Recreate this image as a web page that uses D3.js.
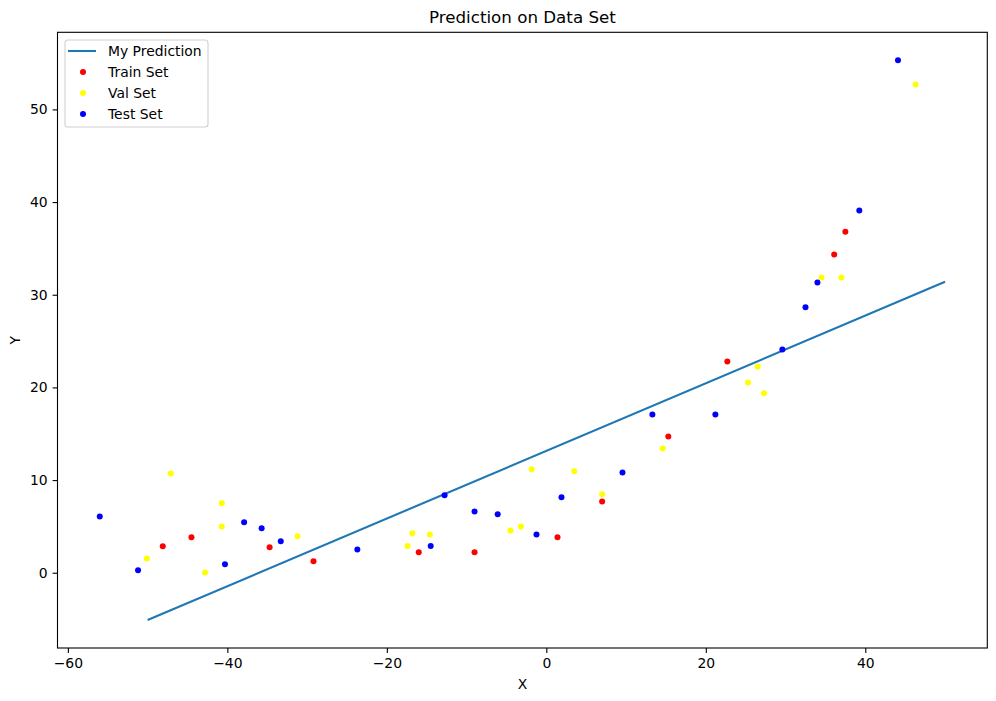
<!DOCTYPE html>
<html>
<head>
<meta charset="utf-8">
<script src="https://cdn.jsdelivr.net/npm/d3@7"></script>
<style>
  body { margin: 0; background: #fff; }
  text { font-family: "DejaVu Sans", sans-serif; }
</style>
</head>
<body>
<div id="chart"></div>
<script>
// Data
var trainX = [-48.1, -44.5, -34.7, -29.2, -16.0, -9.0, 1.4, 7.0, 15.3, 22.7, 36.1, 37.5];
var trainY = [2.85, 3.82, 2.74, 1.23, 2.2, 2.2, 3.82, 7.7, 14.7, 22.8, 34.35, 36.8];

var valX = [-50.1, -47.1, -42.8, -40.7, -40.7, -31.2, -17.4, -16.8, -14.6, -4.5, -3.2, -1.85, 3.5, 7.0, 14.6, 25.3, 26.5, 27.3, 34.5, 37.0, 46.3];
var valY = [1.55, 10.7, 0.04, 7.49, 5.0, 3.93, 2.88, 4.25, 4.14, 4.57, 5.0, 11.16, 10.94, 8.46, 13.42, 20.54, 22.27, 19.36, 31.87, 31.87, 52.7];

var testX = [-56.0, -51.2, -40.3, -37.9, -35.7, -33.3, -23.7, -14.5, -12.76, -9.0, -6.1, -1.23, 1.9, 9.55, 13.3, 21.2, 29.6, 32.5, 34.0, 39.25, 44.1];
var testY = [6.08, 0.26, 0.91, 5.44, 4.79, 3.39, 2.52, 2.88, 8.35, 6.62, 6.30, 4.14, 8.14, 10.83, 17.09, 17.09, 24.1, 28.64, 31.33, 39.1, 55.3];

var predX = [-50, 50];
var predY = [-5.1, 31.4];

var xTicks = [-60, -40, -20, 0, 20, 40];
var yTicks = [0, 10, 20, 30, 40, 50];

var svgWidth = 996;
var svgHeight = 701;
var margin = { top: 32.3, right: 8.7, bottom: 53, left: 57.5 };
var width = svgWidth - margin.left - margin.right;
var height = svgHeight - margin.top - margin.bottom;

var svg = d3.select("#chart")
  .append("svg")
  .attr("width", svgWidth)
  .attr("height", svgHeight);

var chartGroup = svg.append("g")
  .attr("transform", `translate(${margin.left}, ${margin.top})`);

var xScale = d3.scaleLinear().domain([-61.3, 55.3]).range([0, width]);
var yScale = d3.scaleLinear().domain([-8.12, 58.32]).range([height, 0]);

// Axes
var bottomAxis = d3.axisBottom(xScale).tickValues(xTicks).tickSize(4.9).tickPadding(4.9).tickSizeOuter(0);
var leftAxis = d3.axisLeft(yScale).tickValues(yTicks).tickSize(4.9).tickPadding(4.9).tickSizeOuter(0);

var gx = chartGroup.append("g")
  .attr("transform", `translate(0, ${height})`)
  .call(bottomAxis);
var gy = chartGroup.append("g").call(leftAxis);

[gx, gy].forEach(function(g) {
  g.select(".domain").remove();
  g.selectAll("line").attr("stroke", "#000").attr("stroke-width", 1.1);
  g.selectAll("text").attr("font-size", 13.9).attr("fill", "#000")
    .style("font-family", "'DejaVu Sans', sans-serif");
});

// Prediction line
var line = d3.line()
  .x(d => xScale(d[0]))
  .y(d => yScale(d[1]));

chartGroup.append("path")
  .datum(d3.zip(predX, predY))
  .attr("d", line)
  .attr("fill", "none")
  .attr("stroke", "#1f77b4")
  .attr("stroke-width", 2.1);

// Scatter sets
var sets = [
  { xs: trainX, ys: trainY, color: "red" },
  { xs: valX, ys: valY, color: "yellow" },
  { xs: testX, ys: testY, color: "blue" }
];

sets.forEach(function(s) {
  chartGroup.append("g").selectAll("circle")
    .data(d3.zip(s.xs, s.ys))
    .enter()
    .append("circle")
    .attr("cx", d => xScale(d[0]))
    .attr("cy", d => yScale(d[1]))
    .attr("r", 3)
    .attr("fill", s.color);
});

// Frame
chartGroup.append("rect")
  .attr("width", width)
  .attr("height", height)
  .attr("fill", "none")
  .attr("stroke", "#000")
  .attr("stroke-width", 1.1);

// Title and labels
svg.append("text")
  .attr("x", margin.left + width / 2)
  .attr("y", 23)
  .attr("text-anchor", "middle")
  .attr("font-size", 16.7)
  .text("Prediction on Data Set");

svg.append("text")
  .attr("x", margin.left + width / 2)
  .attr("y", 689)
  .attr("text-anchor", "middle")
  .attr("font-size", 13.9)
  .text("X");

svg.append("text")
  .attr("transform", `translate(20, ${margin.top + height / 2}) rotate(-90)`)
  .attr("text-anchor", "middle")
  .attr("font-size", 13.9)
  .text("Y");

// Legend
var legend = svg.append("g").attr("transform", "translate(65, 40)");
legend.append("rect")
  .attr("width", 143)
  .attr("height", 87)
  .attr("rx", 3)
  .attr("fill", "#fff")
  .attr("fill-opacity", 0.8)
  .attr("stroke", "#d0d0d0")
  .attr("stroke-width", 1.1);

var entries = [
  { label: "My Prediction", type: "line", color: "#1f77b4" },
  { label: "Train Set", type: "dot", color: "red" },
  { label: "Val Set", type: "dot", color: "yellow" },
  { label: "Test Set", type: "dot", color: "blue" }
];

entries.forEach(function(e, i) {
  var row = legend.append("g").attr("transform", `translate(0, ${11 + i * 21})`);
  if (e.type === "line") {
    row.append("line")
      .attr("x1", 3).attr("x2", 31)
      .attr("stroke", e.color).attr("stroke-width", 2.1);
  } else {
    row.append("circle").attr("cx", 18).attr("r", 3).attr("fill", e.color);
  }
  row.append("text")
    .attr("x", 43)
    .attr("dy", "0.35em")
    .attr("font-size", 13.9)
    .text(e.label);
});
</script>
</body>
</html>
